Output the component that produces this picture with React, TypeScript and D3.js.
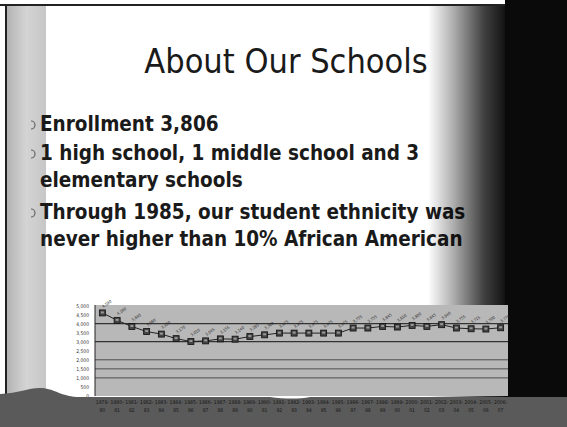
import * as d3 from "d3";

const categories = [
  "1979-80", "1980-81", "1981-82", "1982-83", "1983-84", "1984-85", "1985-86",
  "1986-87", "1987-88", "1988-89", "1989-90", "1990-91", "1991-92", "1992-93",
  "1993-94", "1994-95", "1995-96", "1996-97", "1997-98", "1998-99", "1999-00",
  "2000-01", "2001-02", "2002-03", "2003-04", "2004-05", "2005-06", "2006-07",
];
const enrollment = [
  4590, 4180, 3840, 3560, 3420, 3170, 3010, 3045, 3155, 3140, 3285, 3380, 3475, 3475,
  3475, 3475, 3475, 3755, 3755, 3845, 3810, 3900, 3845, 3940, 3755, 3715, 3700, 3770,
];
const yTicks = [0, 500, 1000, 1500, 2000, 2500, 3000, 3500, 4000, 4500, 5000];
const gridValues = [1000, 1500, 2000, 3000, 4000];

const title = "About Our Schools";
const bullets = [
  ["Enrollment 3,806"],
  ["1 high school, 1 middle school and 3", "elementary schools"],
  ["Through 1985, our student ethnicity was", "never higher than 10% African American"],
];

const W = 567;
const H = 427;
const FONT = "'DejaVu Sans Condensed', 'DejaVu Sans', sans-serif";

export default function App() {
  const x = d3.scaleBand<string>().domain(categories).range([95, 508]);
  const y = d3.scaleLinear().domain([0, 5000]).range([396, 305.5]);
  const fmt = d3.format(",");

  const line = d3
    .line<number>()
    .x((_, i) => x(categories[i])! + x.bandwidth() / 2)
    .y((d) => y(d));

  // wavy top edge of the dark band at the bottom
  const band = d3.path();
  band.moveTo(0, 394);
  band.bezierCurveTo(20, 393, 30, 387, 42, 388);
  band.bezierCurveTo(55, 389, 62, 397, 80, 397);
  band.lineTo(270, 397);
  band.bezierCurveTo(285, 399, 300, 399, 310, 397);
  band.lineTo(W, 397);
  band.lineTo(W, H);
  band.lineTo(0, H);
  band.closePath();

  let lineNo = 0;
  const lineY = [131, 160, 187, 219, 246];

  return (
    <div style={{ position: "fixed", left: 0, top: 0 }}>
      <svg width={W} height={H} style={{ display: "block" }}>
        <defs>
          <linearGradient id="fade" x1="0" x2="1" y1="0" y2="0">
            <stop offset="0" stopColor="#000" stopOpacity={0} />
            <stop offset="0.3" stopColor="#000" stopOpacity={0.3} />
            <stop offset="0.7" stopColor="#000" stopOpacity={0.75} />
            <stop offset="1" stopColor="#000" stopOpacity={0.95} />
          </linearGradient>
          <linearGradient id="strip" x1="0" x2="1" y1="0" y2="0">
            <stop offset="0" stopColor="#b4b4b4" />
            <stop offset="0.5" stopColor="#d4d4d4" />
            <stop offset="1" stopColor="#c6c6c6" />
          </linearGradient>
        </defs>

        <rect width={W} height={H} fill="#fff" />
        <rect x={7} y={6} width={39} height={392} fill="url(#strip)" />
        <line x1={0} x2={505} y1={5} y2={5} stroke="#222" strokeWidth={2} />
        <line x1={6} x2={6} y1={5} y2={396} stroke="#222" strokeWidth={2} />

        <text x={286} y={73} textAnchor="middle" fontFamily={FONT} fontSize={34} fill="#1a1a1a">
          {title}
        </text>

        {bullets.map((b, bi) => (
          <g key={bi}>
            {b.map((t, ti) => {
              const ly = lineY[lineNo++];
              return (
                <g key={ti}>
                  {ti === 0 && (
                    <path
                      d={`M ${31} ${ly - 10} A 4 4 0 1 1 ${31} ${ly - 2}`}
                      fill="none"
                      stroke="#666"
                      strokeWidth={1.2}
                    />
                  )}
                  <text x={40} y={ly} fontFamily={FONT} fontWeight="bold" fontSize={20.5} fill="#1a1a1a">
                    {t}
                  </text>
                </g>
              );
            })}
          </g>
        ))}

        <rect x={428} y={6} width={80} height={H} fill="url(#fade)" />
        <rect x={505} y={0} width={W - 505} height={H} fill="#0a0a0a" />

        {/* chart */}
        <rect x={95} y={305} width={413} height={91} fill="#b8b8b8" />
        {gridValues.map((v) => (
          <line key={v} x1={95} x2={508} y1={y(v)} y2={y(v)} stroke="#333" strokeWidth={v >= 3000 ? 1.2 : 0.8} />
        ))}
        <line x1={95} x2={95} y1={305} y2={396} stroke="#222" strokeWidth={1} />
        {yTicks.map((v) => (
          <text key={v} x={89} y={y(v) + 2} textAnchor="end" fontFamily={FONT} fontSize={5} fill="#333">
            {fmt(v)}
          </text>
        ))}
        <path d={line(enrollment) ?? ""} fill="none" stroke="#222" strokeWidth={1} />
        {enrollment.map((v, i) => {
          const cx = x(categories[i])! + x.bandwidth() / 2;
          const cy = y(v);
          return (
            <g key={i}>
              <rect x={cx - 3} y={cy - 3} width={6} height={6} fill="#444" stroke="#111" strokeWidth={0.8} />
              <rect x={cx - 1.5} y={cy - 1.5} width={3} height={2} fill="#999" />
              <text
                x={cx + 1}
                y={cy - 5}
                fontFamily={FONT}
                fontSize={4}
                fill="#222"
                transform={`rotate(-35 ${cx + 1} ${cy - 5})`}
              >
                {fmt(v)}
              </text>
            </g>
          );
        })}

        <path d={band.toString()} fill="#5a5a5a" />
        {categories.map((c, i) => {
          const cx = x(c)! + x.bandwidth() / 2;
          const [a, b] = c.split("-");
          return (
            <text key={c} x={cx} textAnchor="middle" fontFamily={FONT} fontSize={5} fill="#151515">
              <tspan x={cx} y={404}>{a}-</tspan>
              <tspan x={cx} y={412}>{b}</tspan>
            </text>
          );
        })}
      </svg>
    </div>
  );
}
